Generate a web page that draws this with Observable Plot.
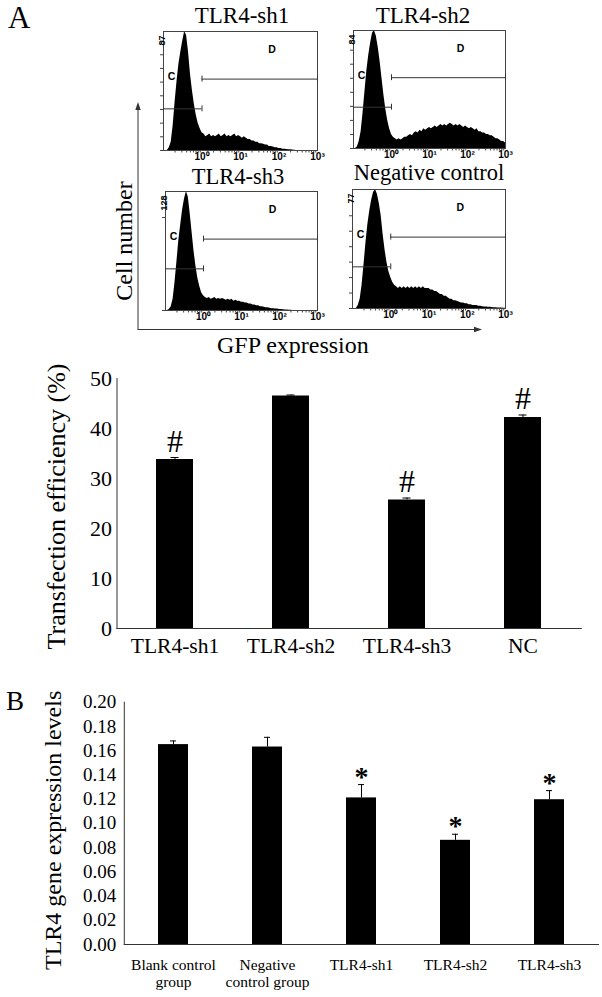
<!DOCTYPE html>
<html><head><meta charset="utf-8">
<script src="https://cdn.jsdelivr.net/npm/d3@7"></script>
<script src="https://cdn.jsdelivr.net/npm/@observablehq/plot@0.6"></script>
<style>
html,body{margin:0;padding:0;background:#fff;}
#fig{position:relative;width:602px;height:997px;overflow:hidden;background:#fff;}
#fig > svg{position:absolute;overflow:visible;}
</style></head><body><div id="fig"></div>
<script>
// ---------- Panel A: flow cytometry histograms ----------
const histTitles = ["TLR4-sh1", "TLR4-sh2", "TLR4-sh3", "Negative control"];
const histMax = [87, 84, 128, 77];
const histTickStep = [10, 10, 100, 10];
const histBinStart = -1.0;   // log10 of GFP intensity at first bin
const histBinStep = 0.05;    // bin width in log10 units
const countsSh1 = [0,0,0,2,6,18,35,50,63,72, 80,87,84,72,56,44,34,26,20,16, 13,12,10,11,12,10,11,10,11,12, 10,11,12,10,11,10,11,12,10,11, 10,9,10,9,8,8,7,7,6,6, 5,5,4.5,4,4,3,3,2.5,2,2, 1.5,1.5,1,1,0.8,0.5,0.5,0.3,0.2,0, 0,0,0,0,0,0,0,0,0,0,0];
const countsSh2 = [0,0,1,5,12,25,40,55,66,75, 82,84,80,72,62,50,38,28,20,14, 10,8,7,6,7,6,7,8,8,9, 10,9,11,12,11,13,12,14,13,14, 15,14,15,16,15,16,17,16,17,16, 17,18,17,16,17,16,17,16,15,16, 15,14,15,14,13,14,12,12,11,11, 10,10,9,9,8,7,7,6,5,5, 4];
const countsSh3 = [0,0,1,4,12,30,52,75,92,108, 120,128,122,104,84,64,48,35,26,19, 16,14,13,14,12,13,14,12,13,12, 13,12,11,12,11,12,10,11,10,10, 9,9,8,8,7,7,6,6,5,5, 4,4,3.5,3,3,2.5,2,2,1.5,1.5, 1,1,0.8,0.6,0.5,0.3,0.2,0,0,0, 0,0,0,0,0,0,0,0,0,0, 0];
const countsNC = [0,0,0,2,6,15,28,42,54,63, 70,75,77,74,68,60,48,38,30,24, 20,17,15,14,13,14,13,14,13,14, 13,14,13,14,13,14,13,14,13,13, 13,12,12,11,11,10,9,9,8,8, 7,6,6,5,5,4.5,4,3.5,3.5,3, 3,2.5,2.5,2,2,2,1.5,1.5,1.2,1, 1,0.8,0.8,0.6,0.5,0.5,0.4,0.3,0.3,0.2, 0.2];
const histCounts = [countsSh1, countsSh2, countsSh3, countsNC];
const histMajorTicks = [1, 10, 100, 1000];
const gateC = [0.1, 1];      // gate C range (GFP intensity)
const gateD = [1, 1000];     // gate D range

// ---------- Panel A: transfection efficiency ----------
const effCategories = ["TLR4-sh1", "TLR4-sh2", "TLR4-sh3", "NC"];
const effValues = [33.8, 46.5, 25.7, 42.2];
const effErrors = [0.4, 0.2, 0.4, 0.5];
const effMarks = ["#", "", "#", "#"];
const effTicks = [0, 10, 20, 30, 40, 50];

// ---------- Panel B: TLR4 expression ----------
const exprCategories = ["Blank control\ngroup", "Negative\ncontrol group", "TLR4-sh1", "TLR4-sh2", "TLR4-sh3"];
const exprValues = [0.165, 0.163, 0.121, 0.086, 0.1195];
const exprErrors = [0.003, 0.008, 0.011, 0.005, 0.0075];
const exprMarks = ["", "", "*", "*", "*"];
const exprTicks = [0, 0.02, 0.04, 0.06, 0.08, 0.10, 0.12, 0.14, 0.16, 0.18, 0.20];

const SERIF = "'Liberation Serif','Times New Roman',serif";
const SANS = "'Liberation Sans',Arial,sans-serif";
const fig = document.getElementById("fig");
function place(el, left, top) { el.style.position = "absolute"; el.style.left = left + "px"; el.style.top = top + "px"; el.style.overflow = "visible"; fig.appendChild(el); }

// histogram frames: left, top, width, height
const histFrames = [[163, 31, 154, 119], [353, 29.5, 152, 118], [165, 191, 152, 119], [352, 189, 153, 119]];
const sup = {"-1":"⁻¹", "0":"⁰", "1":"¹", "2":"²", "3":"³"};
const minorTicks = [];
for (let n = -1; n < 3; n++) for (let k = 2; k <= 9; k++) minorTicks.push(k * 10 ** n);

histCounts.forEach((counts, h) => {
  const [L, T, W, H] = histFrames[h];
  const max = histMax[h];
  const bins = counts.map((c, i) => ({x: 10 ** (histBinStart + i * histBinStep), c}));
  const ml = 18, mr = 12, mt = 4, mb = 16;
  const gC = 0.35 * max, gD = 0.60 * max, e = 0.025 * max;
  const chart = Plot.plot({
    width: W + ml + mr, height: H + mt + mb,
    marginLeft: ml, marginRight: mr, marginTop: mt, marginBottom: mb,
    x: {type: "log", domain: [0.1, 1000]},
    y: {domain: [0, max]},
    style: {fontFamily: SANS, background: "transparent", overflow: "visible"},
    marks: [
      Plot.areaY(bins, {x: "x", y: "c", fill: "black"}),
      Plot.frame({stroke: "#444", strokeWidth: 1}),
      Plot.axisY({ticks: d3.range(0, max, histTickStep[h]), tickSize: 3, tickFormat: () => "", label: null, stroke: "#444"}),
      Plot.text([max], {frameAnchor: "top-left", text: d => String(d), rotate: -90, textAnchor: "end", dx: -5, dy: 4, fontSize: 9, fontWeight: "bold"}),
      Plot.axisX({ticks: histMajorTicks, tickSize: 0, tickPadding: 2, label: null, fontSize: 10, fontWeight: "bold",
        tickFormat: d => "10" + sup[String(Math.round(Math.log10(d)))]}),
      Plot.axisX({ticks: minorTicks, tickSize: 2.5, tickFormat: () => "", label: null, stroke: "#444"}),
      Plot.ruleY([gC], {x1: gateC[0], x2: gateC[1], stroke: "#333"}),
      Plot.ruleX([gateC[1]], {y1: gC - e, y2: gC + e, stroke: "#333"}),
      Plot.ruleY([gD], {x1: gateD[0], x2: gateD[1], stroke: "#333"}),
      Plot.ruleX(gateD, {y1: gD - e, y2: gD + e, stroke: "#333"}),
      Plot.text(["C"], {x: 10 ** -0.79, y: 0.62 * max, text: d => d, fontSize: 10.5, fontWeight: "bold"}),
      Plot.text(["D"], {x: 10 ** 1.82, y: 0.85 * max, text: d => d, fontSize: 10.5, fontWeight: "bold"})
    ]
  });
  place(chart, L - ml, T - mt);
});

// ---------- bar chart A ----------
const effData = effCategories.map((c, i) => ({c, v: effValues[i], e: effErrors[i], m: effMarks[i]}));
const chartA = Plot.plot({
  width: 602, height: 310, marginLeft: 116.5, marginRight: 21.2, marginTop: 23, marginBottom: 37,
  x: {domain: effCategories, paddingInner: 0.685, paddingOuter: 0.335, axis: null},
  y: {domain: [0, 50], axis: null},
  style: {fontFamily: SERIF, background: "transparent", overflow: "visible", color: "black"},
  marks: [
    Plot.barY(effData, {x: "c", y: "v", fill: "black"}),
    Plot.ruleX(effData, {x: "c", y1: "v", y2: d => d.v + d.e, stroke: "black"}),
    Plot.tickY(effData, {x: "c", y: d => d.v + d.e, insetLeft: 14.5, insetRight: 14.5, stroke: "black"}),
    Plot.text(effData.filter(d => d.m), {x: "c", y: d => d.v + d.e, text: "m", lineAnchor: "bottom", dy: -6, fontSize: 32}),
    Plot.axisY({ticks: effTicks, tickSize: 0, tickPadding: 5, fontSize: 22, label: null}),
    Plot.axisX({tickSize: 0, tickPadding: 9, fontSize: 21.5, label: null}),
    Plot.frame({anchor: "left", stroke: "#333"}),
    Plot.frame({anchor: "bottom", stroke: "#333"}),
    Plot.text(["Transfection efficiency (%)"], {frameAnchor: "left", rotate: -90, textAnchor: "middle", dx: -60, dy: 3, fontSize: 26})
  ]
});
place(chartA, 0, 355);

// ---------- bar chart B ----------
const exprData = exprCategories.map((c, i) => ({c, v: exprValues[i], e: exprErrors[i], m: exprMarks[i]}));
const chartB = Plot.plot({
  width: 602, height: 317, marginLeft: 123.8, marginRight: 4, marginTop: 21.7, marginBottom: 53,
  x: {domain: exprCategories, paddingInner: 0.683, paddingOuter: 0.348, axis: null},
  y: {domain: [0, 0.20], axis: null},
  style: {fontFamily: SERIF, background: "transparent", overflow: "visible", color: "black"},
  marks: [
    Plot.barY(exprData, {x: "c", y: "v", fill: "black"}),
    Plot.ruleX(exprData, {x: "c", y1: "v", y2: d => d.v + d.e, stroke: "black"}),
    Plot.tickY(exprData, {x: "c", y: d => d.v + d.e, insetLeft: 12, insetRight: 12, stroke: "black"}),
    Plot.text(exprData.filter(d => d.m), {x: "c", y: d => d.v + d.e, text: "m", lineAnchor: "bottom", dy: 1, fontSize: 28, fontWeight: "bold"}),
    Plot.axisY({ticks: exprTicks, tickSize: 0, tickPadding: 8, fontSize: 19, label: null, tickFormat: d3.format(".2f")}),
    Plot.text(exprCategories, {x: d => d, frameAnchor: "bottom", lineAnchor: "top", dy: 13, lineHeight: 1.1, fontSize: 15.5, text: d => d}),
    Plot.frame({anchor: "left", stroke: "#333"}),
    Plot.frame({anchor: "bottom", stroke: "#333"}),
    Plot.text(["TLR4 gene expression levels"], {frameAnchor: "left", rotate: -90, textAnchor: "middle", dx: -71, dy: 7, fontSize: 24})
  ]
});
place(chartB, 0, 680);

// ---------- overlay: panel letters, histogram titles, axis arrows ----------
const titlePos = [[242, 22.5, 23], [423, 22.5, 23], [238, 184, 22.5], [429, 180, 22.5]];
const ns = "http://www.w3.org/2000/svg";
const ov = d3.create("svg").attr("xmlns", ns).attr("width", 602).attr("height", 997)
  .style("position", "absolute").style("left", "0px").style("top", "0px").style("pointer-events", "none");
ov.append("text").attr("x", 8).attr("y", 28).attr("font-family", SERIF).attr("font-size", 31).text("A");
ov.append("text").attr("x", 6).attr("y", 710).attr("font-family", SERIF).attr("font-size", 27).text("B");
histTitles.forEach((t, i) => {
  const [x, y, fs] = titlePos[i];
  ov.append("text").attr("x", x).attr("y", y).attr("text-anchor", "middle").attr("font-family", SERIF).attr("font-size", fs).text(t);
});
const g = ov.append("g").attr("stroke", "#333").attr("stroke-width", 1).attr("fill", "none");
g.append("path").attr("d", "M138,329.5V108");
g.append("path").attr("d", "M137.5,329.5H476");
ov.append("path").attr("d", "M138,102L135.3,110L140.7,110Z").attr("fill", "#333");
ov.append("path").attr("d", "M482,329.5L474,326.8L474,332.2Z").attr("fill", "#333");
ov.append("text").attr("transform", "translate(124,241) rotate(-90)").attr("text-anchor", "middle").attr("dy", "0.35em")
  .attr("font-family", SERIF).attr("font-size", 24).text("Cell number");
ov.append("text").attr("x", 217).attr("y", 353).attr("font-family", SERIF).attr("font-size", 24).text("GFP expression");
fig.appendChild(ov.node());
</script></body></html>
